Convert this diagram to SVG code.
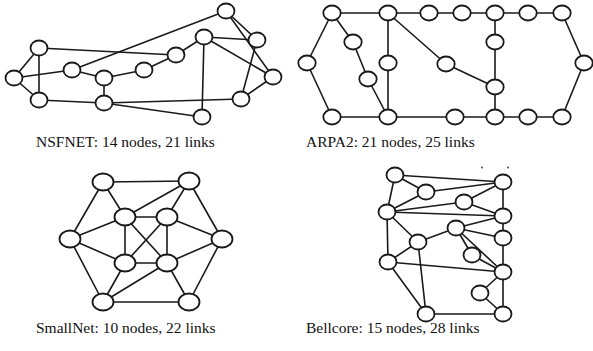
<svg xmlns="http://www.w3.org/2000/svg" width="593" height="351" viewBox="0 0 593 351">
<style>
.bg{fill:#fff}
.e line{stroke:#1a1a1a;stroke-width:1.6;stroke-linecap:round}
.n ellipse{fill:#fff;stroke:#1a1a1a;stroke-width:1.8}
.cap{font-family:"Liberation Serif","Times New Roman",serif;font-size:15.5px;fill:#111}
.dot{fill:#333}
</style>
<rect class="bg" x="0" y="0" width="593" height="351"/>
<!-- NSFNET connectors -->
<g id="nsf-links" class="e">
<line x1="14" y1="78" x2="39" y2="48"/>
<line x1="14" y1="78" x2="39" y2="100"/>
<line x1="14" y1="78" x2="72" y2="70"/>
<line x1="39" y1="48" x2="39" y2="100"/>
<line x1="39" y1="48" x2="176" y2="55"/>
<line x1="72" y1="70" x2="226" y2="11"/>
<line x1="72" y1="70" x2="104" y2="78"/>
<line x1="104" y1="78" x2="144" y2="70"/>
<line x1="144" y1="70" x2="176" y2="55"/>
<line x1="176" y1="55" x2="204" y2="37"/>
<line x1="104" y1="78" x2="104" y2="103"/>
<line x1="39" y1="100" x2="104" y2="103"/>
<line x1="104" y1="103" x2="241" y2="99"/>
<line x1="104" y1="103" x2="202" y2="117"/>
<line x1="204" y1="37" x2="202" y2="117"/>
<line x1="204" y1="37" x2="257" y2="40"/>
<line x1="204" y1="37" x2="273" y2="77"/>
<line x1="226" y1="11" x2="257" y2="40"/>
<line x1="226" y1="11" x2="273" y2="77"/>
<line x1="257" y1="40" x2="241" y2="99"/>
<line x1="273" y1="77" x2="241" y2="99"/>
</g>
<g class="n">
<g id="nsf-a"><ellipse cx="226" cy="11" rx="8.5" ry="7.5"/></g>
<g id="nsf-b"><ellipse cx="257" cy="40" rx="8.5" ry="7.5"/></g>
<g id="nsf-c"><ellipse cx="204" cy="37" rx="8.5" ry="7.5"/></g>
<g id="nsf-d"><ellipse cx="176" cy="55" rx="8.5" ry="7.5"/></g>
<g id="nsf-e"><ellipse cx="39" cy="48" rx="8.5" ry="7.5"/></g>
<g id="nsf-f"><ellipse cx="72" cy="70" rx="8.5" ry="7.5"/></g>
<g id="nsf-g"><ellipse cx="144" cy="70" rx="8.5" ry="7.5"/></g>
<g id="nsf-h"><ellipse cx="104" cy="78" rx="8.5" ry="7.5"/></g>
<g id="nsf-i"><ellipse cx="14" cy="78" rx="8.5" ry="7.5"/></g>
<g id="nsf-j"><ellipse cx="273" cy="77" rx="8.5" ry="7.5"/></g>
<g id="nsf-k"><ellipse cx="39" cy="100" rx="8.5" ry="7.5"/></g>
<g id="nsf-l"><ellipse cx="104" cy="103" rx="8.5" ry="7.5"/></g>
<g id="nsf-m"><ellipse cx="241" cy="99" rx="8.5" ry="7.5"/></g>
<g id="nsf-n"><ellipse cx="202" cy="117" rx="8.5" ry="7.5"/></g>
</g>
<!-- ARPA2 connectors -->
<g id="arpa-links" class="e">
<line x1="332" y1="13" x2="388" y2="13"/>
<line x1="388" y1="13" x2="429" y2="13"/>
<line x1="429" y1="13" x2="462" y2="13"/>
<line x1="462" y1="13" x2="495" y2="13"/>
<line x1="495" y1="13" x2="528" y2="13"/>
<line x1="528" y1="13" x2="562" y2="13"/>
<line x1="562" y1="13" x2="584" y2="63"/>
<line x1="584" y1="63" x2="562" y2="117"/>
<line x1="562" y1="117" x2="528" y2="117"/>
<line x1="528" y1="117" x2="495" y2="117"/>
<line x1="495" y1="117" x2="455" y2="117"/>
<line x1="455" y1="117" x2="388" y2="117"/>
<line x1="388" y1="117" x2="332" y2="117"/>
<line x1="332" y1="117" x2="307" y2="63"/>
<line x1="307" y1="63" x2="332" y2="13"/>
<line x1="332" y1="13" x2="353" y2="42"/>
<line x1="353" y1="42" x2="368" y2="79"/>
<line x1="368" y1="79" x2="388" y2="117"/>
<line x1="388" y1="13" x2="388" y2="63"/>
<line x1="388" y1="63" x2="388" y2="117"/>
<line x1="388" y1="13" x2="446" y2="64"/>
<line x1="446" y1="64" x2="495" y2="87"/>
<line x1="495" y1="13" x2="495" y2="42"/>
<line x1="495" y1="42" x2="495" y2="87"/>
<line x1="495" y1="87" x2="495" y2="117"/>
</g>
<g class="n">
<g id="arpa-t1"><ellipse cx="332" cy="13" rx="8.7" ry="7.5"/></g>
<g id="arpa-t2"><ellipse cx="388" cy="13" rx="8.7" ry="7.5"/></g>
<g id="arpa-t3"><ellipse cx="429" cy="13" rx="8.7" ry="7.5"/></g>
<g id="arpa-t4"><ellipse cx="462" cy="13" rx="8.7" ry="7.5"/></g>
<g id="arpa-t5"><ellipse cx="495" cy="13" rx="8.7" ry="7.5"/></g>
<g id="arpa-t6"><ellipse cx="528" cy="13" rx="8.7" ry="7.5"/></g>
<g id="arpa-t7"><ellipse cx="562" cy="13" rx="8.7" ry="7.5"/></g>
<g id="arpa-l"><ellipse cx="307" cy="63" rx="8.7" ry="7.5"/></g>
<g id="arpa-r"><ellipse cx="584" cy="63" rx="8.7" ry="7.5"/></g>
<g id="arpa-b1"><ellipse cx="332" cy="117" rx="8.7" ry="7.5"/></g>
<g id="arpa-b2"><ellipse cx="388" cy="117" rx="8.7" ry="7.5"/></g>
<g id="arpa-b3"><ellipse cx="455" cy="117" rx="8.7" ry="7.5"/></g>
<g id="arpa-b4"><ellipse cx="495" cy="117" rx="8.7" ry="7.5"/></g>
<g id="arpa-b5"><ellipse cx="528" cy="117" rx="8.7" ry="7.5"/></g>
<g id="arpa-b6"><ellipse cx="562" cy="117" rx="8.7" ry="7.5"/></g>
<g id="arpa-m1"><ellipse cx="353" cy="42" rx="8.7" ry="7.5"/></g>
<g id="arpa-m2"><ellipse cx="368" cy="79" rx="8.7" ry="7.5"/></g>
<g id="arpa-m3"><ellipse cx="388" cy="63" rx="8.7" ry="7.5"/></g>
<g id="arpa-m4"><ellipse cx="446" cy="64" rx="8.7" ry="7.5"/></g>
<g id="arpa-m5"><ellipse cx="495" cy="42" rx="8.7" ry="7.5"/></g>
<g id="arpa-m6"><ellipse cx="495" cy="87" rx="8.7" ry="7.5"/></g>
</g>
<!-- SmallNet connectors -->
<g id="small-links" class="e">
<line x1="103" y1="182" x2="189" y2="181"/>
<line x1="103" y1="182" x2="70" y2="239"/>
<line x1="103" y1="182" x2="125" y2="217"/>
<line x1="189" y1="181" x2="125" y2="217"/>
<line x1="189" y1="181" x2="167" y2="217"/>
<line x1="189" y1="181" x2="222" y2="239"/>
<line x1="70" y1="239" x2="125" y2="217"/>
<line x1="70" y1="239" x2="125" y2="263"/>
<line x1="70" y1="239" x2="103" y2="302"/>
<line x1="222" y1="239" x2="167" y2="217"/>
<line x1="222" y1="239" x2="167" y2="263"/>
<line x1="222" y1="239" x2="189" y2="302"/>
<line x1="103" y1="302" x2="125" y2="263"/>
<line x1="103" y1="302" x2="167" y2="263"/>
<line x1="103" y1="302" x2="189" y2="302"/>
<line x1="189" y1="302" x2="167" y2="263"/>
<line x1="125" y1="217" x2="167" y2="217"/>
<line x1="125" y1="217" x2="125" y2="263"/>
<line x1="125" y1="217" x2="167" y2="263"/>
<line x1="167" y1="217" x2="167" y2="263"/>
<line x1="167" y1="217" x2="125" y2="263"/>
<line x1="125" y1="263" x2="167" y2="263"/>
</g>
<g class="n">
<g id="small-o1"><ellipse cx="103" cy="182" rx="10.5" ry="8.5"/></g>
<g id="small-o2"><ellipse cx="189" cy="181" rx="10.5" ry="8.5"/></g>
<g id="small-o3"><ellipse cx="70" cy="239" rx="10.5" ry="8.5"/></g>
<g id="small-o4"><ellipse cx="222" cy="239" rx="10.5" ry="8.5"/></g>
<g id="small-o5"><ellipse cx="103" cy="302" rx="10.5" ry="8.5"/></g>
<g id="small-o6"><ellipse cx="189" cy="302" rx="10.5" ry="8.5"/></g>
<g id="small-i1"><ellipse cx="125" cy="217" rx="10.5" ry="8.5"/></g>
<g id="small-i2"><ellipse cx="167" cy="217" rx="10.5" ry="8.5"/></g>
<g id="small-i3"><ellipse cx="125" cy="263" rx="10.5" ry="8.5"/></g>
<g id="small-i4"><ellipse cx="167" cy="263" rx="10.5" ry="8.5"/></g>
</g>
<!-- Bellcore connectors -->
<g id="bell-links" class="e">
<line x1="395" y1="175" x2="503" y2="182"/>
<line x1="395" y1="175" x2="426" y2="192"/>
<line x1="395" y1="175" x2="387" y2="212"/>
<line x1="426" y1="192" x2="503" y2="182"/>
<line x1="426" y1="192" x2="387" y2="212"/>
<line x1="464" y1="202" x2="387" y2="212"/>
<line x1="464" y1="202" x2="503" y2="182"/>
<line x1="464" y1="202" x2="503" y2="216"/>
<line x1="387" y1="212" x2="503" y2="216"/>
<line x1="503" y1="182" x2="503" y2="216"/>
<line x1="456" y1="228" x2="503" y2="216"/>
<line x1="456" y1="228" x2="503" y2="238"/>
<line x1="503" y1="216" x2="503" y2="238"/>
<line x1="418" y1="242" x2="456" y2="228"/>
<line x1="387" y1="212" x2="418" y2="242"/>
<line x1="387" y1="212" x2="388" y2="262"/>
<line x1="418" y1="242" x2="388" y2="262"/>
<line x1="418" y1="242" x2="426" y2="314"/>
<line x1="456" y1="228" x2="472" y2="255"/>
<line x1="456" y1="228" x2="503" y2="272"/>
<line x1="472" y1="255" x2="503" y2="272"/>
<line x1="503" y1="238" x2="503" y2="272"/>
<line x1="388" y1="262" x2="503" y2="272"/>
<line x1="388" y1="262" x2="426" y2="314"/>
<line x1="503" y1="272" x2="480" y2="293"/>
<line x1="480" y1="293" x2="503" y2="314"/>
<line x1="503" y1="272" x2="503" y2="314"/>
<line x1="426" y1="314" x2="503" y2="314"/>
</g>
<g class="n">
<g id="bell-1"><ellipse cx="395" cy="175" rx="8.5" ry="7.5"/></g>
<g id="bell-2"><ellipse cx="503" cy="182" rx="8.5" ry="7.5"/></g>
<g id="bell-3"><ellipse cx="426" cy="192" rx="8.5" ry="7.5"/></g>
<g id="bell-4"><ellipse cx="464" cy="202" rx="8.5" ry="7.5"/></g>
<g id="bell-5"><ellipse cx="387" cy="212" rx="8.5" ry="7.5"/></g>
<g id="bell-6"><ellipse cx="503" cy="216" rx="8.5" ry="7.5"/></g>
<g id="bell-7"><ellipse cx="456" cy="228" rx="8.5" ry="7.5"/></g>
<g id="bell-8"><ellipse cx="503" cy="238" rx="8.5" ry="7.5"/></g>
<g id="bell-9"><ellipse cx="418" cy="242" rx="8.5" ry="7.5"/></g>
<g id="bell-10"><ellipse cx="472" cy="255" rx="8.5" ry="7.5"/></g>
<g id="bell-11"><ellipse cx="388" cy="262" rx="8.5" ry="7.5"/></g>
<g id="bell-12"><ellipse cx="503" cy="272" rx="8.5" ry="7.5"/></g>
<g id="bell-13"><ellipse cx="480" cy="293" rx="8.5" ry="7.5"/></g>
<g id="bell-14"><ellipse cx="426" cy="314" rx="8.5" ry="7.5"/></g>
<g id="bell-15"><ellipse cx="503" cy="314" rx="8.5" ry="7.5"/></g>
</g>
<circle class="dot" cx="482" cy="167.5" r="0.9"/>
<circle class="dot" cx="508" cy="167.5" r="0.9"/>
<!-- captions -->
<text class="cap" x="36" y="147">NSFNET: 14 nodes, 21 links</text>
<text class="cap" x="306" y="147">ARPA2: 21 nodes, 25 links</text>
<text class="cap" x="36" y="333">SmallNet: 10 nodes, 22 links</text>
<text class="cap" x="306" y="333">Bellcore: 15 nodes, 28 links</text>
</svg>
